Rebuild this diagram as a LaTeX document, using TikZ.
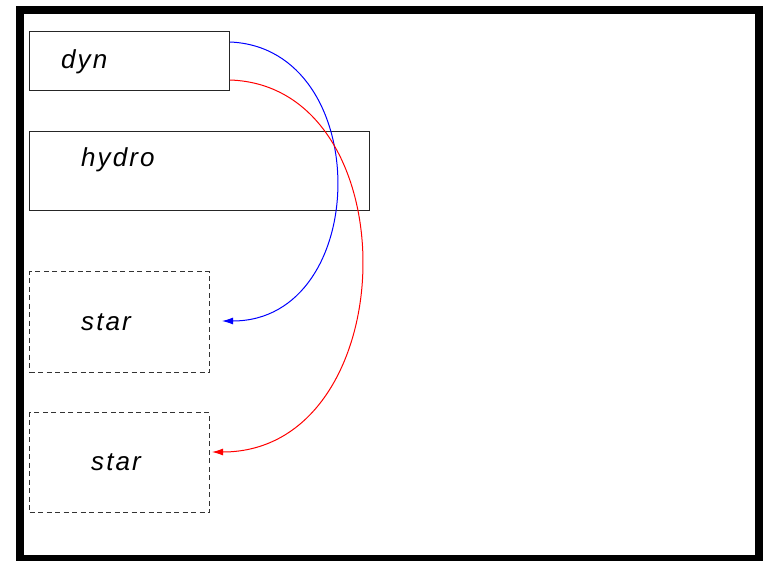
\documentclass[tikz,border=0pt]{standalone}
\usepackage{fontspec}
\setmainfont{Liberation Sans}
\newfontfamily\lblfont[LetterSpace=8]{Liberation Sans}
\usetikzlibrary{arrows.meta,calc}
\tikzset{
  solidbox/.style={draw=black!85, line width=1pt, rectangle, inner sep=0pt, anchor=north west},
  dashbox/.style={draw=black!80, line width=1pt, dash pattern=on 5pt off 3.5pt, rectangle, inner sep=0pt, anchor=north west},
  lbl/.style={inner sep=0pt, anchor=base west, font=\lblfont\itshape\fontsize{26}{30}\selectfont},
  conn/.style={line width=1pt, -{Latex[length=11pt,width=7pt]}}
}
\begin{document}
\begin{tikzpicture}[x=1pt,y=-1pt]
\useasboundingbox (0,0) rectangle (767,560);
\draw[line width=8pt] (20,10) rectangle (759,559);
\node[solidbox, minimum width=200pt, minimum height=59pt] (dyn) at (29,31) {};
\node[solidbox, minimum width=340pt, minimum height=79pt] (hydro) at (29,131) {};
\node[dashbox, minimum width=180pt, minimum height=101pt] (star1) at (29,271) {};
\node[dashbox, minimum width=180pt, minimum height=100pt] (star2) at (29,412) {};
\node[lbl] (tdyn) at (61,68) {dyn};
\node[lbl] (thydro) at (81,166) {hydro};
\node[lbl] (tstar1) at (81,330) {star};
\node[lbl] (tstar2) at (91,470) {star};
\coordinate (bs) at ($(dyn.north east)+(0,11)$);
\coordinate (be) at ($(star1.north east)+(12,50)$);
\coordinate (rs) at ($(dyn.north east)+(0,49)$);
\coordinate (re) at ($(star2.north east)+(2,40)$);
\draw[conn, blue] (bs) .. controls (375,48) and (372,321) .. (be);
\draw[conn, red] (rs) .. controls (412,86) and (405,452) .. (re);
\end{tikzpicture}
\end{document}
